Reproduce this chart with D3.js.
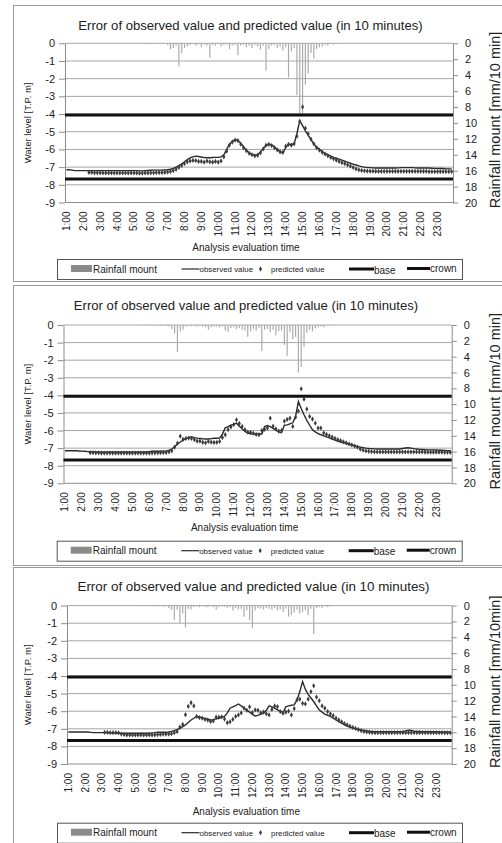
<!DOCTYPE html>
<html lang="en">
<head>
<meta charset="utf-8">
<title>Error of observed value and predicted value</title>
<script src="https://cdn.jsdelivr.net/npm/d3@7"></script>
<style>
  body { margin: 0; background: #fff; }
  svg { display: block; font-family: "Liberation Sans", Arial, sans-serif; }
</style>
</head>
<body>
<script type="text/javascript">

    // hourly tick labels on the category axis
    var hourLabels = ["1:00","2:00","3:00","4:00","5:00","6:00","7:00","8:00","9:00","10:00","11:00","12:00",
        "13:00","14:00","15:00","16:00","17:00","18:00","19:00","20:00","21:00","22:00","23:00"];

    var leftTicks = [0, -1, -2, -3, -4, -5, -6, -7, -8, -9];
    var rightTicks = [0, 2, 4, 6, 8, 10, 12, 14, 16, 18, 20];

    var baseLevel = -4.05;
    var crownLevel = -7.67;

    var chartTitle = "Error of observed value and predicted value (in 10 minutes)";
    var leftTitle = "Water level [T.P. m]";
    var rightTitles = ["Rainfall mount [mm/10 min]", "Rainfall mount [mm/10 min]", "Rainfall mount [mm/10min]"];
    var xTitle = "Analysis evaluation time";
    var legendNames = ["Rainfall mount", "observed value", "predicted value", "base", "crown"];

    // one row per hour, 10 minute steps (1:00 .. 23:50)
    var obs1 = [
        -7.15,-7.15,-7.17,-7.2,-7.2,-7.2,
        -7.2,-7.2,-7.2,-7.2,-7.2,-7.2,
        -7.2,-7.2,-7.2,-7.2,-7.2,-7.2,
        -7.2,-7.2,-7.2,-7.2,-7.2,-7.2,
        -7.2,-7.2,-7.21,-7.21,-7.2,-7.19,
        -7.18,-7.17,-7.17,-7.17,-7.17,-7.16,
        -7.15,-7.12,-7.07,-7.0,-6.92,-6.82,
        -6.7,-6.58,-6.48,-6.42,-6.38,-6.4,
        -6.43,-6.46,-6.47,-6.47,-6.46,-6.45,
        -6.45,-6.42,-6.3,-6.0,-5.7,-5.55,
        -5.44,-5.5,-5.65,-5.85,-6.05,-6.2,
        -6.28,-6.32,-6.3,-6.15,-5.95,-5.78,
        -5.7,-5.75,-5.85,-6.0,-6.12,-6.2,
        -5.9,-5.7,-5.72,-5.68,-5.1,-4.37,
        -4.65,-4.95,-5.2,-5.45,-5.68,-5.88,
        -6.0,-6.12,-6.22,-6.3,-6.38,-6.45,
        -6.5,-6.55,-6.6,-6.66,-6.72,-6.78,
        -6.83,-6.88,-6.93,-6.97,-7.0,-7.02,
        -7.03,-7.04,-7.05,-7.05,-7.05,-7.05,
        -7.05,-7.05,-7.05,-7.05,-7.04,-7.03,
        -7.03,-7.03,-7.03,-7.03,-7.04,-7.05,
        -7.05,-7.05,-7.05,-7.05,-7.06,-7.07,
        -7.08,-7.08,-7.08,-7.1,-7.1,-7.1
    ];
    var pred1 = [
        null,null,null,null,null,null,
        null,null,-7.3,-7.3,-7.32,-7.32,
        -7.32,-7.33,-7.33,-7.33,-7.33,-7.33,
        -7.33,-7.33,-7.33,-7.33,-7.33,-7.33,
        -7.33,-7.33,-7.34,-7.34,-7.33,-7.33,
        -7.32,-7.32,-7.31,-7.31,-7.31,-7.3,
        -7.28,-7.25,-7.2,-7.12,-7.02,-6.9,
        -6.8,-6.7,-6.65,-6.62,-6.63,-6.68,
        -6.68,-6.72,-6.66,-6.7,-6.72,-6.68,
        -6.72,-6.65,-6.42,-6.1,-5.75,-5.58,
        -5.48,-5.5,-5.7,-5.9,-6.07,-6.22,
        -6.3,-6.36,-6.33,-6.2,-5.97,-5.76,
        -5.72,-5.78,-5.9,-6.03,-6.14,-6.16,
        -5.82,-5.72,-5.76,-5.68,-5.25,-4.42,
        -3.6,-4.8,-5.12,-5.42,-5.68,-5.9,
        -6.04,-6.16,-6.27,-6.36,-6.45,-6.53,
        -6.6,-6.67,-6.74,-6.8,-6.87,-6.94,
        -7.02,-7.1,-7.15,-7.19,-7.21,-7.22,
        -7.23,-7.23,-7.24,-7.24,-7.24,-7.24,
        -7.24,-7.24,-7.24,-7.24,-7.24,-7.24,
        -7.24,-7.24,-7.24,-7.24,-7.24,-7.24,
        -7.24,-7.24,-7.24,-7.25,-7.25,-7.25,
        -7.25,-7.25,-7.25,-7.25,-7.25,-7.25
    ];
    var rain1 = [
        0,0,0,0,0,0,
        0,0,0,0,0,0,
        0,0,0,0,0,0,
        0,0,0,0,0,0,
        0,0.05,0.05,0.05,0.1,0.05,
        0.1,0.05,0.1,0.1,0.05,0.1,
        0.2,0.75,0.6,0.3,2.9,1.25,
        0.6,0.4,0.2,0.1,0.3,0.15,
        0.5,0.2,0.3,1.8,0.2,0.3,
        0.1,0.4,0.2,0.15,0.7,0.3,
        0.2,1.5,0.3,0.2,0.5,0.3,
        0.6,0.2,0.4,0.8,0.3,3.4,
        0.7,0.3,0.2,0.6,0.4,0.9,
        0.5,4.3,1.0,0.6,6.5,9.2,
        9.0,5.2,3.8,1.2,1.9,0.7,
        0.5,0.4,0.2,0.3,0.1,0.15,
        0.1,0.05,0.1,0.05,0,0,
        0,0,0,0,0,0,
        0,0,0,0,0,0,
        0,0,0,0,0,0,
        0,0,0,0,0,0,
        0,0,0,0,0,0,
        0.1,0,0,0,0,0
    ];

    var obs2 = [
        -7.15,-7.15,-7.15,-7.15,-7.15,-7.16,
        -7.17,-7.18,-7.2,-7.21,-7.22,-7.22,
        -7.22,-7.22,-7.22,-7.22,-7.22,-7.22,
        -7.22,-7.22,-7.22,-7.22,-7.22,-7.22,
        -7.22,-7.22,-7.22,-7.22,-7.22,-7.22,
        -7.2,-7.18,-7.18,-7.18,-7.18,-7.17,
        -7.16,-7.13,-7.05,-6.92,-6.78,-6.65,
        -6.55,-6.46,-6.4,-6.35,-6.4,-6.43,
        -6.45,-6.47,-6.48,-6.48,-6.46,-6.44,
        -6.44,-6.43,-6.2,-5.85,-5.78,-5.7,
        -5.65,-5.58,-5.75,-5.9,-6.05,-6.14,
        -6.18,-6.2,-6.2,-6.2,-6.2,-5.78,
        -5.72,-5.78,-5.88,-5.98,-6.08,-6.12,
        -5.7,-5.68,-5.62,-5.56,-5.2,-4.35,
        -4.75,-5.1,-5.42,-5.7,-5.95,-6.08,
        -6.18,-6.24,-6.3,-6.36,-6.42,-6.48,
        -6.54,-6.6,-6.65,-6.7,-6.74,-6.78,
        -6.82,-6.86,-6.9,-6.94,-6.97,-7.0,
        -7.02,-7.03,-7.04,-7.05,-7.05,-7.05,
        -7.05,-7.05,-7.05,-7.05,-7.05,-7.05,
        -7.02,-6.99,-6.98,-7.0,-7.03,-7.05,
        -7.07,-7.08,-7.09,-7.1,-7.1,-7.1,
        -7.11,-7.12,-7.12,-7.13,-7.14,-7.15
    ];
    var pred2 = [
        null,null,null,null,null,null,
        null,null,null,-7.26,-7.26,-7.27,
        -7.27,-7.28,-7.28,-7.28,-7.28,-7.28,
        -7.28,-7.28,-7.28,-7.28,-7.28,-7.28,
        -7.28,-7.28,-7.28,-7.28,-7.28,-7.28,
        -7.28,-7.27,-7.27,-7.27,-7.26,-7.25,
        -7.25,-7.22,-7.15,-6.95,-6.72,-6.32,
        -6.5,-6.45,-6.43,-6.45,-6.52,-6.6,
        -6.6,-6.67,-6.7,-6.62,-6.66,-6.68,
        -6.67,-6.62,-6.4,-6.24,-5.95,-5.8,
        -5.67,-5.39,-5.6,-5.77,-5.95,-6.09,
        -6.1,-6.15,-6.22,-6.24,-6.0,-5.93,
        -5.86,-5.3,-5.75,-5.9,-6.03,-6.0,
        -5.47,-5.37,-5.3,-5.77,-5.24,-4.9,
        -3.63,-4.22,-4.78,-5.2,-5.35,-5.58,
        -5.86,-5.86,-6.14,-6.22,-6.3,-6.37,
        -6.45,-6.52,-6.58,-6.64,-6.7,-6.76,
        -6.82,-6.88,-6.95,-7.05,-7.12,-7.16,
        -7.18,-7.2,-7.21,-7.22,-7.22,-7.22,
        -7.22,-7.22,-7.22,-7.22,-7.22,-7.22,
        -7.22,-7.22,-7.22,-7.22,-7.22,-7.22,
        -7.22,-7.22,-7.23,-7.23,-7.23,-7.23,
        -7.23,-7.23,-7.23,-7.24,-7.24,-7.24
    ];
    var rain2 = [
        0,0,0,0,0,0,
        0,0,0,0,0,0,
        0,0,0,0,0,0,
        0,0,0,0,0,0,
        0,0,0,0,0.05,0.05,
        0.05,0.1,0.05,0.1,0.1,0.05,
        0.1,0.2,0.5,1.05,3.4,0.8,
        0.6,0.2,0.1,0.15,0.1,0.2,
        0.1,0.2,0.3,0.6,0.3,0.2,
        0.2,0.3,0.2,0.7,0.9,0.4,
        0.3,0.5,0.4,0.6,0.7,1.5,
        0.8,0.5,0.7,0.4,3.3,0.6,
        0.5,0.9,0.6,1.3,0.8,0.7,
        2.5,3.9,0.9,1.8,1.5,6.0,
        5.3,2.75,1.0,0.6,0.8,0.4,
        0.3,0.2,0.3,0.1,0.1,0.05,
        0,0,0,0,0,0,
        0,0,0,0,0,0,
        0,0,0,0,0,0,
        0,0,0,0,0,0,
        0,0,0,0,0,0,
        0,0,0,0,0,0,
        0,0,0,0,0,0
    ];

    var obs3 = [
        -7.18,-7.18,-7.18,-7.18,-7.18,-7.18,
        -7.18,-7.18,-7.2,-7.22,-7.22,-7.22,
        -7.22,-7.22,-7.23,-7.23,-7.24,-7.24,
        -7.25,-7.25,-7.25,-7.25,-7.25,-7.25,
        -7.25,-7.25,-7.25,-7.25,-7.25,-7.25,
        -7.23,-7.22,-7.2,-7.2,-7.2,-7.2,
        -7.18,-7.15,-7.1,-7.05,-6.98,-6.88,
        -6.78,-6.64,-6.5,-6.4,-6.3,-6.32,
        -6.38,-6.42,-6.46,-6.5,-6.48,-6.44,
        -6.4,-6.35,-6.3,-6.1,-5.83,-5.75,
        -5.68,-5.59,-5.7,-5.82,-5.93,-6.05,
        -6.18,-6.27,-6.24,-6.15,-6.12,-5.95,
        -5.7,-5.75,-5.83,-5.92,-6.0,-6.08,
        -5.75,-5.7,-5.66,-5.64,-5.36,-4.9,
        -4.32,-4.75,-5.05,-5.25,-5.45,-5.7,
        -5.93,-6.05,-6.16,-6.23,-6.3,-6.4,
        -6.5,-6.6,-6.68,-6.76,-6.84,-6.9,
        -6.96,-7.0,-7.04,-7.06,-7.1,-7.12,
        -7.14,-7.16,-7.16,-7.16,-7.16,-7.16,
        -7.16,-7.16,-7.16,-7.16,-7.16,-7.16,
        -7.15,-7.12,-7.08,-7.1,-7.13,-7.15,
        -7.15,-7.16,-7.16,-7.17,-7.17,-7.17,
        -7.17,-7.18,-7.18,-7.18,-7.18,-7.18
    ];
    var pred3 = [
        null,null,null,null,null,null,
        null,null,null,null,null,null,
        null,-7.2,-7.2,-7.22,-7.22,-7.22,
        -7.23,-7.3,-7.33,-7.35,-7.35,-7.35,
        -7.35,-7.35,-7.35,-7.35,-7.35,-7.35,
        -7.35,-7.34,-7.33,-7.32,-7.3,-7.3,
        -7.3,-7.28,-7.22,-7.16,-6.9,-6.75,
        -6.2,-5.72,-5.52,-5.7,-6.3,-6.36,
        -6.4,-6.46,-6.5,-6.59,-6.55,-6.34,
        -6.34,-6.32,-6.45,-6.65,-6.6,-6.46,
        -6.3,-6.21,-6.1,-5.83,-5.95,-5.75,
        -6.08,-5.93,-5.95,-6.1,-6.05,-6.15,
        -6.21,-5.9,-5.7,-5.74,-6.02,-6.12,
        -6.05,-6.0,-6.21,-5.85,-5.36,-5.32,
        -5.55,-5.59,-5.32,-4.89,-4.56,-5.2,
        -5.4,-5.7,-5.83,-6.02,-6.15,-6.25,
        -6.4,-6.5,-6.6,-6.7,-6.78,-6.85,
        -6.92,-6.98,-7.04,-7.1,-7.15,-7.18,
        -7.2,-7.21,-7.22,-7.22,-7.22,-7.22,
        -7.22,-7.22,-7.22,-7.22,-7.22,-7.22,
        -7.22,-7.22,-7.22,-7.22,-7.22,-7.22,
        -7.22,-7.22,-7.22,-7.22,-7.22,-7.22,
        -7.22,-7.22,-7.22,-7.23,-7.23,-7.23
    ];
    var rain3 = [
        0,0,0,0,0,0,
        0,0,0,0,0,0,
        0,0,0,0,0,0,
        0,0,0,0,0,0,
        0,0.05,0,0.05,0.05,0.1,
        0.05,0.1,0.1,0.05,0.15,0.1,
        0.3,0.55,1.8,0.5,2.2,1.0,
        2.75,0.4,0.5,0.2,0.1,0.2,
        0.1,0.15,0.2,0.1,0.2,0.5,
        0.2,0.1,0.15,0.3,0.2,0.6,
        0.3,0.5,0.4,1.4,0.6,1.8,
        2.85,0.6,0.3,0.4,0.5,0.3,
        0.4,0.5,0.3,0.6,0.5,0.8,
        0.4,1.4,1.2,0.9,0.5,1.0,
        0.8,0.6,1.2,0.4,3.6,0.3,
        0.2,0.3,0.1,0.2,0.1,0.05,
        0.05,0,0,0,0,0,
        0,0,0,0,0,0,
        0,0,0,0,0,0,
        0,0,0,0,0.05,0,
        0,0,0,0,0,0.05,
        0,0,0,0,0,0,
        0,0,0,0,0,0
    ];

    // category labels for every 10 minute step
    var times = [];
    for (var h = 1; h <= 23; h++) {
        for (var m = 0; m < 60; m += 10) {
            times.push(h + ":" + (m < 10 ? "0" + m : m));
        }
    }

    var width = 502;
    var height = 843;

    var svg = d3.select("body").append("svg")
        .attr("width", width)
        .attr("height", height);

    var panels = [
        { boxTop: 5, boxBottom: 281, left: 65, right: 453, top: 43.3, bottom: 202.5,
          titleX: 250.5, titleY: 29.5, titleSize: 13.1, xTitleY: 250.8,
          legendTop: 259, legendLeft: 57, legendRight: 462,
          rightTitle: rightTitles[0], obs: obs1, pred: pred1, rain: rain1 },
        { boxTop: 285, boxBottom: 565, left: 63.5, right: 451.7, top: 325, bottom: 483.3,
          titleX: 246, titleY: 309.5, titleSize: 13.1, xTitleY: 531.2,
          legendTop: 540.7, legendLeft: 56.7, legendRight: 461.7,
          rightTitle: rightTitles[1], obs: obs2, pred: pred2, rain: rain2 },
        { boxTop: 567, boxBottom: 850, left: 67, right: 451.7, top: 605.6, bottom: 764,
          titleX: 253.5, titleY: 591, titleSize: 13.4, xTitleY: 814.5,
          legendTop: 822.7, legendLeft: 57, legendRight: 462,
          rightTitle: rightTitles[2], obs: obs3, pred: pred3, rain: rain3 }
    ];

    panels.forEach(drawPanel);

    function drawPanel(p) {
        var g = svg.append("g");

        g.append("rect")
            .attr("x", 13.5).attr("y", p.boxTop + 0.5)
            .attr("width", 600).attr("height", p.boxBottom - p.boxTop)
            .attr("fill", "none").attr("stroke", "#9a9a9a");

        var x = d3.scaleBand().domain(times).range([p.left, p.right]);
        var bw = x.bandwidth();
        var cx = function (t) { return x(t) + bw / 2; };
        var y = d3.scaleLinear().domain([-9, 0]).range([p.bottom, p.top]);
        var yr = d3.scaleLinear().domain([0, 20]).range([p.top, p.bottom]);

        // gridlines
        g.selectAll(".grid").data(leftTicks.filter(function (d) { return d > -9; }))
            .enter().append("line")
            .attr("x1", p.left).attr("x2", p.right)
            .attr("y1", function (d) { return y(d); })
            .attr("y2", function (d) { return y(d); })
            .attr("stroke", "#a6a6a6").attr("stroke-width", 1);

        // rainfall bars hang from the top
        g.selectAll(".rain").data(p.rain)
            .enter().append("rect")
            .attr("x", function (d, i) { return cx(times[i]) - 0.6; })
            .attr("y", p.top)
            .attr("width", 1.2)
            .attr("height", function (d) { return yr(d) - p.top; })
            .attr("fill", "#ababab");

        // axes
        var leftAxis = g.append("g")
            .attr("transform", "translate(" + p.left + ",0)")
            .call(d3.axisLeft(y).tickValues(leftTicks).tickSize(6).tickSizeOuter(0).tickPadding(4)
                .tickFormat(function (d) { return String(d); }));
        var rightAxis = g.append("g")
            .attr("transform", "translate(" + p.right + ",0)")
            .call(d3.axisRight(yr).tickValues(rightTicks).tickSize(5).tickSizeOuter(0).tickPadding(7));
        [leftAxis, rightAxis].forEach(function (a) {
            a.selectAll("path,line").attr("stroke", "#8c8c8c");
            a.selectAll("text").attr("font-size", 11).attr("fill", "#222")
                .attr("font-family", "Liberation Sans, Arial, sans-serif");
        });

        g.append("line")
            .attr("x1", p.left).attr("x2", p.right)
            .attr("y1", p.bottom).attr("y2", p.bottom)
            .attr("stroke", "#8c8c8c");

        g.selectAll(".xlab").data(hourLabels)
            .enter().append("text")
            .attr("transform", function (d) { return "translate(" + cx(d) + "," + (p.bottom + 9) + ") rotate(-90)"; })
            .attr("text-anchor", "end")
            .attr("dy", "0.35em")
            .attr("font-size", 10)
            .attr("fill", "#222")
            .text(function (d) { return d; });

        // base and crown levels
        [baseLevel, crownLevel].forEach(function (v) {
            g.append("line")
                .attr("x1", p.left).attr("x2", p.right)
                .attr("y1", y(v)).attr("y2", y(v))
                .attr("stroke", "#111").attr("stroke-width", 3);
        });

        var line = d3.line()
            .x(function (d, i) { return cx(times[i]); })
            .y(function (d) { return y(d); });

        g.append("path")
            .attr("d", line(p.obs))
            .attr("fill", "none")
            .attr("stroke", "#2a2a2a")
            .attr("stroke-width", 1.4);

        var diamond = d3.symbol().type(d3.symbolDiamond).size(8);
        g.selectAll(".pred").data(p.pred.map(function (v, i) { return { t: times[i], v: v }; })
                .filter(function (d) { return d.v !== null; }))
            .enter().append("path")
            .attr("d", diamond)
            .attr("transform", function (d) { return "translate(" + cx(d.t) + "," + y(d.v) + ")"; })
            .attr("fill", "#3c3c3c");

        // titles
        g.append("text")
            .attr("x", p.titleX).attr("y", p.titleY)
            .attr("text-anchor", "middle")
            .attr("font-size", p.titleSize)
            .attr("fill", "#222")
            .text(chartTitle);

        var mid = (p.top + p.bottom) / 2;
        g.append("text")
            .attr("transform", "translate(31," + mid + ") rotate(-90)")
            .attr("text-anchor", "middle")
            .attr("font-size", 9.5)
            .attr("fill", "#222")
            .text(leftTitle);

        g.append("text")
            .attr("transform", "translate(500," + (mid - 3) + ") rotate(-90)")
            .attr("text-anchor", "middle")
            .attr("font-size", 14.5)
            .attr("fill", "#222")
            .text(p.rightTitle);

        g.append("text")
            .attr("x", (p.left + p.right) / 2 - 13).attr("y", p.xTitleY)
            .attr("text-anchor", "middle")
            .attr("font-size", 10)
            .attr("fill", "#222")
            .text(xTitle);

        // legend
        var lx = p.legendLeft, ly = p.legendTop, lc = ly + 10;
        g.append("rect")
            .attr("x", lx + 0.5).attr("y", ly + 0.5)
            .attr("width", p.legendRight - lx).attr("height", 20)
            .attr("fill", "#fff").attr("stroke", "#555");

        g.append("rect")
            .attr("x", lx + 14).attr("y", lc - 4)
            .attr("width", 21).attr("height", 7)
            .attr("fill", "#8a8a8a");
        g.append("text").attr("x", lx + 36).attr("y", lc + 3.5)
            .attr("font-size", 10).attr("fill", "#222").text(legendNames[0]);

        g.append("line")
            .attr("x1", lx + 124.5).attr("x2", lx + 142.5)
            .attr("y1", lc).attr("y2", lc)
            .attr("stroke", "#2a2a2a").attr("stroke-width", 1.2);
        g.append("text").attr("x", lx + 142.5).attr("y", lc + 3)
            .attr("font-size", 7.9).attr("fill", "#222").text(legendNames[1]);

        g.append("path")
            .attr("d", diamond)
            .attr("transform", "translate(" + (lx + 203.5) + "," + lc + ")")
            .attr("fill", "#3c3c3c");
        g.append("text").attr("x", lx + 214).attr("y", lc + 3)
            .attr("font-size", 7.9).attr("fill", "#222").text(legendNames[2]);

        g.append("line")
            .attr("x1", lx + 292).attr("x2", lx + 317)
            .attr("y1", lc).attr("y2", lc)
            .attr("stroke", "#111").attr("stroke-width", 3);
        g.append("text").attr("x", lx + 317).attr("y", lc + 4.5)
            .attr("font-size", 10).attr("fill", "#222").text(legendNames[3]);

        g.append("line")
            .attr("x1", lx + 350).attr("x2", lx + 373)
            .attr("y1", lc - 0.5).attr("y2", lc - 0.5)
            .attr("stroke", "#111").attr("stroke-width", 3);
        g.append("text").attr("x", lx + 373).attr("y", lc + 3)
            .attr("font-size", 10).attr("fill", "#222").text(legendNames[4]);
    }

</script>
</body>
</html>
